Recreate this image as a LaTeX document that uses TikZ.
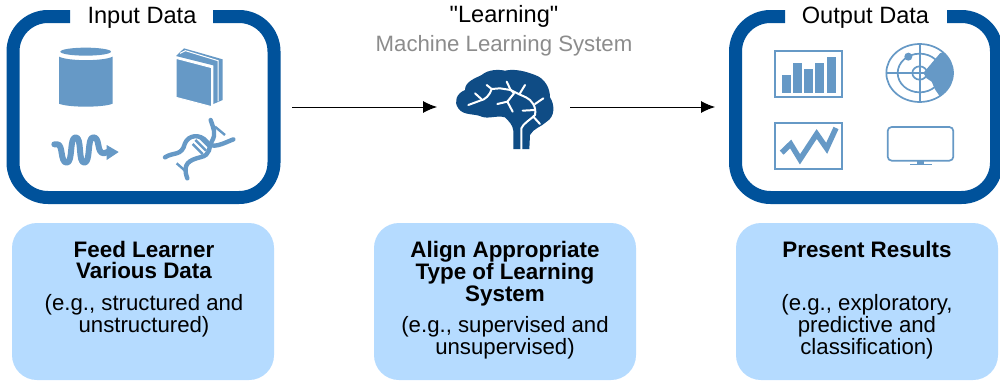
\documentclass[tikz,border=0pt]{standalone}
\usepackage{fontspec}
\setmainfont{Liberation Sans}
\newfontfamily\plainquote{Liberation Sans}
\usetikzlibrary{arrows.meta}
\definecolor{frameblue}{HTML}{00529B}
\definecolor{brainblue}{HTML}{0F4C85}
\definecolor{iconblue}{HTML}{6699C6}
\definecolor{panelblue}{HTML}{B5DBFF}
\definecolor{subgray}{HTML}{8C8C8C}
\tikzset{
  framepath/.style={draw=frameblue,line width=13pt,line cap=butt,rounded corners=35pt},
  holder/.style={inner sep=0pt,outer sep=0pt},
  panel/.style={fill=panelblue,rounded corners=25pt},
  lbl/.style={font=\fontsize{22.2}{24}\selectfont,inner sep=0pt,anchor=base,text=black},
  title/.style={lbl,font=\fontsize{23.6}{24}\selectfont},
  subt/.style={lbl,text=subgray},
  hd/.style={lbl,font=\bfseries\fontsize{22.4}{24}\selectfont},
  flow/.style={draw=black,line width=0.9pt,-{Latex[length=14pt,width=12pt]}},
  iconline/.style={draw=iconblue,line width=1.7pt},
  iconthick/.style={draw=iconblue,line width=6pt,line join=round,line cap=round},
  vein/.style={draw=white,line width=2pt,line cap=round,line join=round},
  strand/.style={draw=iconblue,line width=4.4pt,line cap=round},
  rung/.style={draw=iconblue,line width=2.4pt},
  zoomed/.style={x=0.33333pt,y=-0.33333pt},
}
\begin{document}
\begin{tikzpicture}[x=1pt,y=-1pt]
\useasboundingbox (0,0) rectangle (1000,380);
\clip (0,0) rectangle (1000,380);
\fill[white] (0,0) rectangle (1000,380);

% holders for connectors
\node[holder,minimum width=274pt,minimum height=193pt] (inbox) at (144,107) {};
\node[holder,minimum width=133pt,minimum height=90pt] (brain) at (503.5,107) {};
\node[holder,minimum width=280pt,minimum height=193pt] (outbox) at (868,107) {};

% frames
\draw[framepath] (70,16.5) -- (13,16.5) -- (13,197.5) -- (274,197.5) -- (274,16.5) -- (213,16.5);
\draw[framepath] (785,16.5) -- (735.5,16.5) -- (735.5,197.5) -- (996.5,197.5) -- (996.5,16.5) -- (947,16.5);

% top labels
\node[title] (tin) at (142,23) {Input Data};
\node[title] (tout) at (865.5,23) {Output Data};
\node[title] (tlearn) at (504,22) {\plainquote "Learning"};
\node[subt] (tsys) at (504,51) {Machine Learning System};

% connectors
\draw[flow,shorten <=11pt] (inbox.east) -- (brain.west);
\draw[flow,shorten >=13pt] (brain.east) -- (outbox.west);

% input icons
\begin{scope}[zoomed]
  % cylinder
  \fill[iconblue] (257,155) ellipse [x radius=76,y radius=12];
  \fill[iconblue] (177,170) .. controls (205,184) and (310,184) .. (338,170) -- (338,311) .. controls (310,323) and (205,323) .. (177,311) -- cycle;
  % book
  \fill[iconblue] (528,168) -- (552,145) -- (668,178) -- (668,300) -- (640,312) -- (640,196) -- cycle;
  \draw[white,line width=1pt] (540,160) -- (556,152) -- (654,182) -- (654,304);
  \draw[draw=white,fill=iconblue,line width=1pt] (528,175) -- (635,203) -- (635,320) -- (528,292) -- cycle;
  % stream
  \draw[iconthick] (163,433) -- (172,433) .. controls (190,433) and (180,488) .. (200,488)
     .. controls (220,488) and (207,412) .. (227,412) .. controls (247,412) and (233,488) .. (253,488)
     .. controls (273,488) and (260,412) .. (280,412) .. controls (302,412) and (288,460) .. (312,460) -- (325,455);
  \fill[iconblue] (320,435) -- (356,456) -- (320,480) -- cycle;
  % dna
  \draw[strand] (495,472) .. controls (520,455) and (545,470) .. (555,430) .. controls (565,405) and (600,400) .. (620,425) .. controls (635,450) and (670,430) .. (700,418);
  \draw[strand] (562,535) .. controls (545,490) and (570,480) .. (600,472) .. controls (635,465) and (625,440) .. (635,425) .. controls (650,400) and (640,385) .. (632,360);
  \draw[rung] (578,432) -- (608,462);
  \draw[rung] (586,420) -- (618,452);
  \draw[rung] (598,412) -- (626,440);
  \draw[rung] (645,380) -- (675,405);
  \draw[rung] (530,490) -- (555,512);
\end{scope}

% output icons
\begin{scope}[shift={(720,0)},zoomed]
  \draw[iconline] (166,153) rectangle (365,290);
  \fill[iconblue] (185,225) rectangle (212,280);
  \fill[iconblue] (218,188) rectangle (246,280);
  \fill[iconblue] (253,207) rectangle (280,280);
  \fill[iconblue] (286,188) rectangle (313,280);
  \fill[iconblue] (320,170) rectangle (347,280);
  % radar
  \begin{scope}
    \clip (599,219) ellipse [x radius=101,y radius=88];
    \fill[iconblue] (610,219) -- (660,160) -- (710,140) -- (710,300) -- (660,290) -- (645,268) -- (635,245) -- (620,235) -- cycle;
  \end{scope}
  \draw[iconline] (599,219) ellipse [x radius=100,y radius=87];
  \draw[iconline] (599,219) ellipse [x radius=66,y radius=58];
  \draw[iconline] (599,219) ellipse [x radius=22,y radius=20];
  \draw[iconline] (599,132) -- (599,306);
  \draw[iconline] (499,219) -- (625,219);
  \fill[iconblue] (565,170) circle [radius=12];
  % line chart
  \draw[iconline] (166,369) rectangle (365,506);
  \draw[draw=iconblue,line width=5.5pt,line join=miter] (185,458) -- (212,432) -- (240,478) -- (290,402) -- (320,445) -- (348,384);
  % monitor
  \draw[iconline,rounded corners=4pt] (503,381) rectangle (700,482);
  \fill[iconblue] (592,482) rectangle (612,491);
  \fill[iconblue] (570,491) rectangle (635,496);
\end{scope}

% brain
\begin{scope}[shift={(420,60)},zoomed]
  \fill[brainblue] (280,267) -- (280,212) .. controls (278,195) and (268,185) .. (255,172)
    .. controls (230,165) and (205,178) .. (185,170) .. controls (165,160) and (130,168) .. (115,145)
    .. controls (100,125) and (110,100) .. (135,90) .. controls (135,65) and (165,55) .. (185,45)
    .. controls (205,28) and (235,28) .. (255,32) .. controls (285,25) and (320,35) .. (345,45)
    .. controls (375,55) and (390,85) .. (390,112) .. controls (405,135) and (405,170) .. (380,185)
    .. controls (365,200) and (340,205) .. (330,225) -- (328,267) -- (308,267) -- (300,267) -- cycle;
  \draw[vein] (304,272) -- (304,205) .. controls (310,190) and (330,180) .. (345,165) .. controls (350,140) and (335,120) .. (318,112)
    -- (298,103) -- (272,90) -- (260,65);
  \draw[vein] (272,90) -- (240,85) -- (215,87) -- (200,75);
  \draw[vein] (215,87) .. controls (210,105) and (195,120) .. (180,122) -- (145,135);
  \draw[vein] (185,118) -- (165,100);
  \draw[vein] (298,103) -- (315,75);
  \draw[vein] (345,132) -- (370,115);
  \draw[vein] (345,150) -- (308,152);
  \draw[vein] (272,90) -- (282,100) -- (262,125) -- (232,132);
  \draw[vein] (262,125) -- (278,155);
  \draw[vein] (340,170) -- (360,192);
\end{scope}

% panels
\fill[panel] (12,223) rectangle (274,380);
\fill[panel] (374,223) rectangle (636,380);
\fill[panel] (736,223) rectangle (998,380);

\node[hd] (a1) at (144,257) {Feed Learner};
\node[hd] (a2) at (144,278) {Various Data};
\node[lbl] (a3) at (144,310) {(e.g., structured and};
\node[lbl] (a4) at (144,332) {unstructured)};

\node[hd] (b1) at (505,257) {Align Appropriate};
\node[hd] (b2) at (505,279) {Type of Learning};
\node[hd] (b3) at (505,301) {System};
\node[lbl] (b4) at (505,332) {(e.g., supervised and};
\node[lbl] (b5) at (505,354) {unsupervised)};

\node[hd] (c1) at (867,257) {Present Results};
\node[lbl] (c2) at (867,310) {(e.g., exploratory,};
\node[lbl] (c3) at (867,332) {predictive and};
\node[lbl] (c4) at (867,354) {classification)};
\end{tikzpicture}
\end{document}
